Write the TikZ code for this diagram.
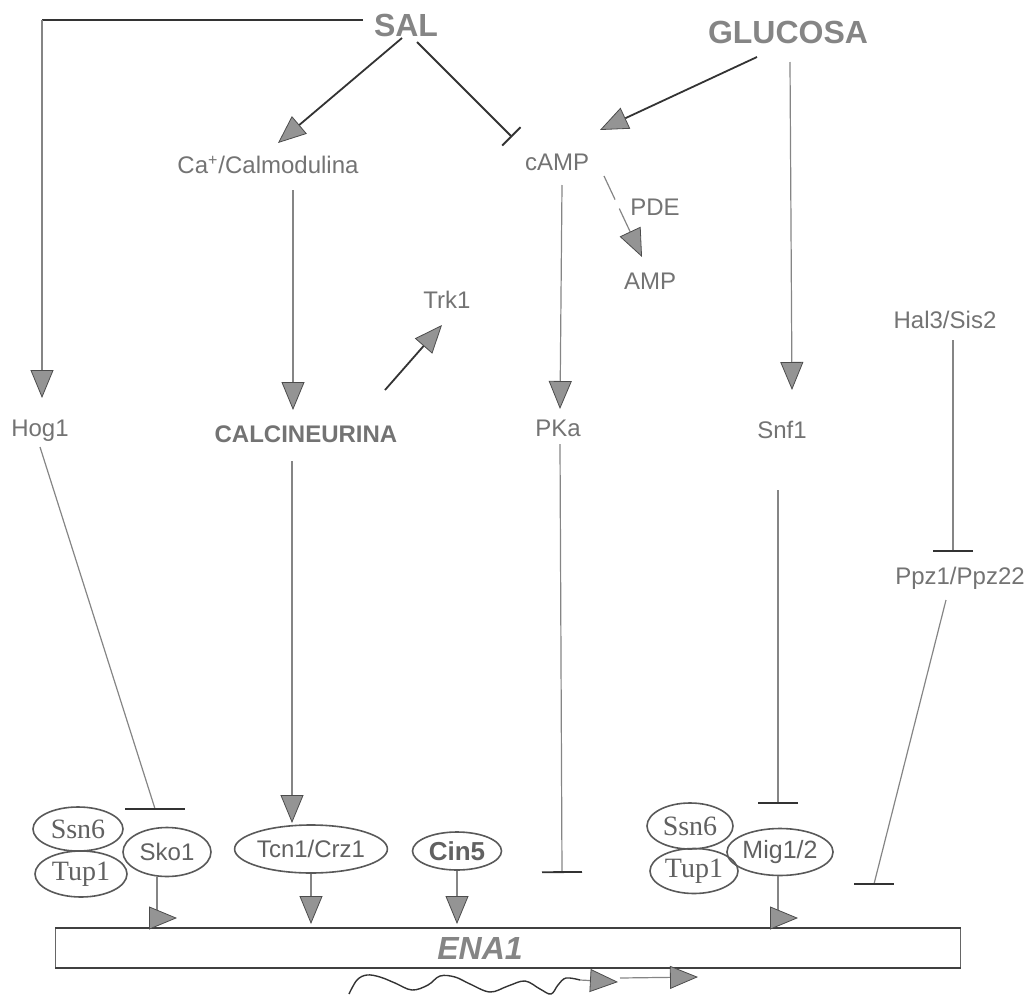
\documentclass[tikz,border=0pt]{standalone}
\usepackage{fontspec}
\setmainfont{Liberation Sans}
\newfontfamily\timesfont{Liberation Serif}
\usetikzlibrary{arrows.meta,calc,shapes.geometric}
\definecolor{labgray}{gray}{0.45}
\definecolor{biggray}{gray}{0.52}
\definecolor{linegray}{gray}{0.52}
\definecolor{darkline}{gray}{0.2}
\definecolor{tipfill}{gray}{0.58}
\definecolor{tipedge}{gray}{0.3}
\begin{document}
\begin{tikzpicture}[x=0.5pt,y=-0.5pt,
  lab/.style={inner sep=2pt, text=labgray, font=\fontsize{12}{14}\selectfont},
  big/.style={inner sep=2pt, text=biggray, font=\fontsize{16}{18}\selectfont\bfseries},
  fac/.style={ellipse, draw=black!65, line width=0.8pt, inner sep=0pt, text=black!62},
  serifl/.style={font=\timesfont\fontsize{14}{16}\selectfont},
  gline/.style={draw=linegray, line width=0.6pt},
  dline/.style={draw=darkline, line width=0.9pt},
  act/.style={-{Triangle[length=14pt,width=11.5pt,fill=tipfill,color=tipedge,line width=0.4pt]}},
  inh/.style={-{Bar[width=20pt,line width=0.9pt,color=darkline]}},
  bar/.style={draw=darkline, line width=0.9pt}]

\useasboundingbox (0,0) rectangle (1029,996);

% signals
\node[big] (sal)  at (406,25) {SAL};
\node[big] (gluc) at (788,32) {GLUCOSA};

% second messengers and kinases
\node[lab] (calm) at (268,165) {Ca\textsuperscript{+}/Calmodulina};
\node[lab] (camp) at (557,162) {cAMP};
\node[lab] (pde)  at (655,207) {PDE};
\node[lab] (amp)  at (650,281) {AMP};
\node[lab] (trk)  at (447,300) {Trk1};
\node[lab] (hal)  at (945,320) {Hal3/Sis2};
\node[lab] (hog)  at (40,431) {Hog1};
\node[lab, font=\fontsize{12}{14}\selectfont\bfseries] (calci) at (306,434) {CALCINEURINA};
\node[lab] (pka)  at (558,428) {PKa};
\node[lab] (snf)  at (782,430) {Snf1};
\node[lab] (ppz)  at (960,578) {Ppz1/Ppz22};

% transcription factors
\node[fac, serifl, minimum width=45pt, minimum height=22pt] (ssnA) at (78,829) {Ssn6};
\node[fac, serifl, minimum width=46pt, minimum height=23pt] (tupA) at (81,874) {Tup1};
\node[fac, font=\fontsize{12}{14}\selectfont, minimum width=44pt, minimum height=24.5pt] (sko) at (167,852) {Sko1};
\node[fac, font=\fontsize{12}{14}\selectfont, minimum width=71pt, minimum height=24pt] (tcn) at (311,849) {Tcn1/Crz1};
\node[fac, font=\fontsize{13}{15}\selectfont\bfseries, minimum width=44.5pt, minimum height=19pt] (cin) at (457,851) {Cin5};
\node[fac, serifl, minimum width=43pt, minimum height=23pt] (ssnB) at (690,826) {Ssn6};
\node[fac, serifl, minimum width=44pt, minimum height=22.5pt] (tupB) at (694,871) {Tup1};
\node[fac, font=\fontsize{12.5}{14}\selectfont, minimum width=45pt, minimum height=23.5pt] (mig) at (780,852) {Mig1/2};

% ENA1 gene: thin ends, heavier top and bottom strands
\node[draw=black!60, line width=0.5pt, minimum width=452.5pt, minimum height=19.5pt,
      inner sep=0pt, anchor=north west] (ena) at (55,928) {};
\draw[draw=black!75, line width=1.1pt] (ena.north west) -- (ena.north east);
\draw[draw=black!75, line width=1.1pt] (ena.south west) -- (ena.south east);
\node[text=biggray, font=\fontsize{16}{18}\selectfont\bfseries\itshape] (enat) at (480,948) {ENA1};

% salt branch to Hog1
\coordinate (c0) at (42,20);
\draw[dline] ($(sal)+(-43,-5)$) -- (c0);
\draw[gline, act] (c0) -- ($(hog)+(2,-33)$);

% salt and glucose signalling
\draw[dline, act] ($(sal)+(-4,13)$) -- ($(calm)+(10,-22)$);
\draw[dline, -{Bar[width=13pt,line width=0.9pt]}] ($(sal)+(11,17)$) -- ($(camp)+(-45,-25)$);
\draw[dline, act] ($(gluc)+(-31,25)$) -- ($(camp)+(43,-32)$);
\draw[gline, act] ($(gluc)+(2,30)$) -- ($(snf)+(10,-40)$);

% calcineurin pathway
\draw[gline, act] ($(calm)+(25,25)$) -- ($(calci)+(-13,-24)$);
\draw[dline, act] ($(calci)+(79,-44)$) -- ($(trk)+(-5,25)$);
\draw[gline, act] ($(calci)+(-14,27)$) -- ($(tcn)+(-19,-26)$);

% cAMP / PKA
\draw[gline, act] ($(camp)+(5,23)$) -- ($(pka)+(2,-19)$);
\draw[gline, dash pattern=on 13pt off 5pt on 60pt, act] ($(camp)+(47,14)$) -- ($(amp)+(-8,-24)$);
\draw[gline, inh] ($(pka)+(2,16)$) -- ($(pka.south |- ena.north)+(4,-55)$);

% Snf1 / Mig1
\draw[gline, inh] ($(snf)+(-4,60)$) -- ($(mig)+(-2,-48)$);

% Hal3 / Ppz1
\draw[gline, inh] ($(hal)+(8,20)$) -- ($(ppz)+(-7,-26)$);
\coordinate (ppzbar) at ($(ena.north east)+(-87,-44)$);
\draw[gline] ($(ppz)+(-14,22)$) -- (ppzbar);
\draw[bar] ($(ppzbar)+(-20,0)$) -- ($(ppzbar)+(20,0)$);

% Hog1 on Sko1
\coordinate (skobar) at ($(sko.north)+(-12,-18)$);
\draw[gline] ($(hog)+(0,16)$) -- (skobar);
\draw[bar] ($(skobar)+(-30,0)$) -- ($(skobar)+(30,0)$);

% factors acting on ENA1
\draw[gline, act] ($(sko.south)+(-10,0)$) |- ($(sko.south |- ena.north)+(10,-10)$);
\draw[gline, act] (tcn.south) -- ($(tcn.south |- ena.north)+(0,-4)$);
\draw[gline, act] (cin.south) -- ($(cin.south |- ena.north)+(0,-4)$);
\draw[gline, act] ($(mig.south)+(-2,0)$) |- ($(mig.south |- ena.north)+(18,-10)$);

% transcript
\coordinate (w0) at (349,994);
\coordinate (w1) at (580,980);
\draw[dline, line width=0.7pt] plot[smooth, tension=0.6] coordinates {(w0) (357,980) (367,975) (380,977) (395,983) (412,990) (428,985) (440,976) (455,977) (470,984) (490,992) (508,986) (525,981) (540,989) (551,994) (558,985) (566,978) (w1)};
\draw[gline, act] (w1) -- (618,982);
\draw[gline, act] (620,978) -- (698,977);
\end{tikzpicture}
\end{document}
